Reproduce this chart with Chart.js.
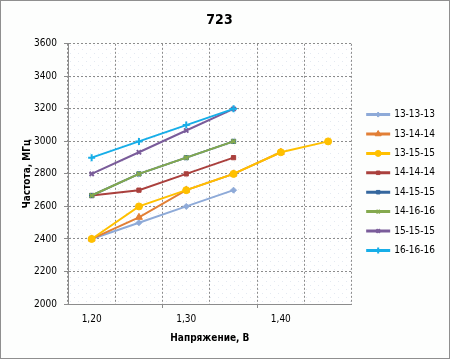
<!DOCTYPE html>
<html>
<head>
<meta charset="utf-8">
<script src="https://cdn.jsdelivr.net/npm/chart.js@4/dist/chart.umd.min.js"></script>
<style>
  html, body { margin: 0; padding: 0; background: #ffffff; }
  #wrap { width: 450px; height: 359px; }
</style>
</head>
<body>
<div id="wrap"><canvas id="c" width="450" height="359"></canvas></div>
<script>
// ---- data ----
const categories = ['1,20', '1,25', '1,30', '1,35', '1,40', '1,45'];
const seriesNames = ['13-13-13', '13-14-14', '13-15-15', '14-14-14', '14-15-15', '14-16-16', '15-15-15', '16-16-16'];
const s13_13_13 = [2400, 2500, 2600, 2700, null, null];
const s13_14_14 = [2400, 2533, 2700, 2800, 2933, null];
const s13_15_15 = [2400, 2600, 2700, 2800, 2933, 3000];
const s14_14_14 = [2667, 2700, 2800, 2900, null, null];
const s14_15_15 = [2667, 2800, 2900, 3000, null, null];
const s14_16_16 = [2667, 2800, 2900, 3000, null, null];
const s15_15_15 = [2800, 2933, 3067, 3200, null, null];
const s16_16_16 = [2900, 3000, 3100, 3200, null, null];
const yTicks = [2000, 2200, 2400, 2600, 2800, 3000, 3200, 3400, 3600];
const titleText = '723';
const xTitle = 'Напряжение, В';
const yTitle = 'Частота, МГц';

// ---- styles ----
const FONT = "'DejaVu Sans Condensed', 'DejaVu Sans', sans-serif";
const colors = ['#8eaad8', '#e27f36', '#ffc000', '#aa403d', '#35679e', '#84a94e', '#7a5c9a', '#17aee8'];
const styles = ['rectRot', 'triangle', 'circle', 'rect', 'rect', 'crossRot', 'crossRot', 'cross'];
const radii = [3, 4, 3.5, 3, 3, 3, 3, 3.5];
const allSeries = [s13_13_13, s13_14_14, s13_15_15, s14_14_14, s14_15_15, s14_16_16, s15_15_15, s16_16_16];

const datasets = allSeries.map((d, i) => ({
  label: seriesNames[i],
  data: d,
  borderColor: colors[i],
  backgroundColor: colors[i],
  pointBackgroundColor: colors[i],
  pointBorderColor: colors[i],
  pointStyle: styles[i],
  pointRadius: radii[i],
  pointBorderWidth: (styles[i] === 'cross' || styles[i] === 'crossRot') ? 2 : 1,
  borderWidth: 2,
  tension: 0,
  spanGaps: false,
  order: allSeries.length - i
}));

// dotted plot-area pattern
function makePattern(ctx) {
  const p = document.createElement('canvas');
  p.width = 8; p.height = 8;
  const pc = p.getContext('2d');
  pc.fillStyle = '#ffffff';
  pc.fillRect(0, 0, 8, 8);
  pc.fillStyle = '#e4e9f1';
  pc.fillRect(2, 1, 1, 1);
  pc.fillRect(6, 5, 1, 1);
  return ctx.createPattern(p, 'repeat');
}

const bgPlugin = {
  id: 'bg',
  afterLayout(chart) {
    // shift legend block to leave the gap seen in the reference
    if (chart.legend) {
      chart.legend.left += 6; chart.legend.right += 6;
      chart.legend.top += 3; chart.legend.bottom += 3;
    }
  },
  beforeDraw(chart) {
    const ctx = chart.ctx;
    const a = chart.chartArea;
    ctx.save();
    ctx.fillStyle = '#fdfefd';
    ctx.fillRect(0, 0, chart.width, chart.height);
    ctx.strokeStyle = '#8f8f8f';
    ctx.lineWidth = 1;
    ctx.strokeRect(0.5, 0.5, chart.width - 1, chart.height - 1);
    ctx.fillStyle = makePattern(ctx);
    ctx.fillRect(a.left, a.top, a.right - a.left, a.bottom - a.top);
    ctx.restore();
  }
};

const legendMarkers = {
  id: 'legendMarkers',
  afterDraw(chart) {
    const lg = chart.legend;
    if (!lg || !lg.legendHitBoxes) return;
    const ctx = chart.ctx;
    const bw = lg.options.labels.boxWidth;
    lg.legendItems.forEach((item, k) => {
      const hb = lg.legendHitBoxes[k];
      const ds = chart.data.datasets[item.datasetIndex];
      const x = hb.left + bw / 2;
      const y = hb.top + hb.height / 2;
      ctx.save();
      ctx.fillStyle = ds.pointBackgroundColor;
      ctx.strokeStyle = ds.pointBorderColor;
      ctx.lineWidth = ds.pointBorderWidth;
      Chart.helpers.drawPoint(ctx, {pointStyle: ds.pointStyle, radius: ds.pointRadius - 0.5, rotation: 0, borderWidth: ds.pointBorderWidth}, x, y);
      ctx.restore();
    });
  }
};

new Chart(document.getElementById('c'), {
  type: 'line',
  data: { labels: categories, datasets: datasets },
  plugins: [bgPlugin, legendMarkers],
  options: {
    responsive: false,
    animation: false,
    devicePixelRatio: 1,
    layout: { padding: { left: 0, right: 11, top: 0, bottom: 0 } },
    plugins: {
      tooltip: { enabled: false },
      title: {
        display: true,
        text: titleText,
        color: '#000000',
        font: { family: FONT, size: 14, weight: 'bold', lineHeight: 1.2 },
        padding: { top: 12, bottom: 15 }
      },
      legend: {
        display: true,
        position: 'right',
        labels: {
          color: '#000000',
          font: { family: FONT, size: 10 },
          boxWidth: 22,
          boxHeight: 1,
          padding: 9.4,
          sort: (a, b) => a.datasetIndex - b.datasetIndex
        }
      }
    },
    scales: {
      x: {
        type: 'category',
        offset: true,
        afterFit: (s) => { s.height = 55; },
        grid: {
          offset: true,
          color: '#8c8c8c',
          lineWidth: 1,
          drawTicks: true,
          tickLength: 4,
          tickColor: (c) => (c.index > 0 && c.index % 2 === 0) ? '#8c8c8c' : 'rgba(0,0,0,0)'
        },
        border: { display: true, color: '#8c8c8c', width: 1, dash: [2, 2] },
        ticks: {
          color: '#000000',
          font: { family: FONT, size: 10 },
          maxRotation: 0,
          autoSkip: false,
          padding: 5,
          callback: function(v, i) { return i % 2 === 0 ? categories[i] : ''; }
        },
        title: {
          display: true,
          text: xTitle,
          color: '#000000',
          font: { family: FONT, size: 10, weight: 'bold' },
          padding: { top: 4, bottom: 15 }
        }
      },
      y: {
        min: yTicks[0],
        max: yTicks[yTicks.length - 1],
        afterFit: (s) => { s.width = 68; },
        afterBuildTicks: (s) => { s.ticks = yTicks.map(v => ({ value: v })); },
        grid: {
          color: '#8c8c8c',
          lineWidth: 1,
          drawTicks: true,
          tickLength: 4,
          tickColor: '#8c8c8c'
        },
        border: { display: true, color: '#8c8c8c', width: 1, dash: [2, 2] },
        ticks: {
          color: '#000000',
          font: { family: FONT, size: 10 },
          padding: 7,
          callback: (v) => String(v)
        },
        title: {
          display: true,
          text: yTitle,
          color: '#000000',
          font: { family: FONT, size: 10, weight: 'bold' },
          padding: { top: 21, bottom: 0 }
        }
      }
    }
  }
});
</script>
</body>
</html>
